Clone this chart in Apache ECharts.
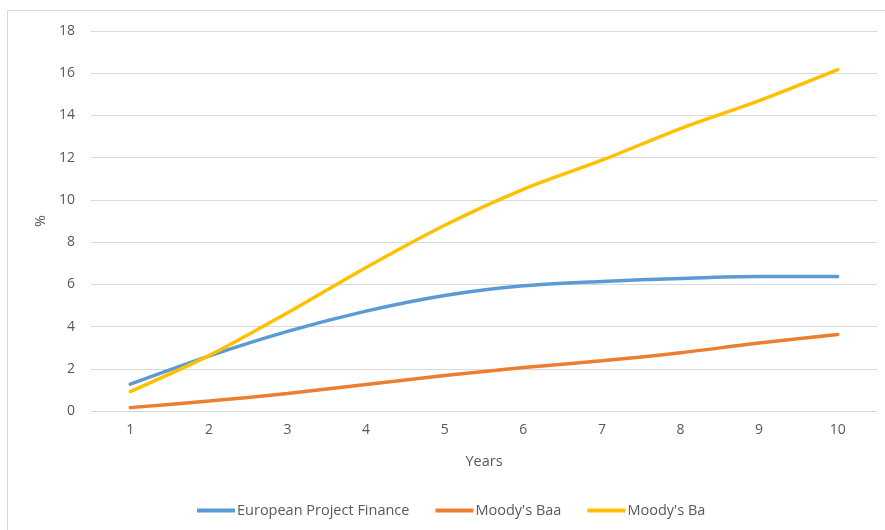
<!DOCTYPE html>
<html><head><meta charset="utf-8">
<script src="https://cdn.jsdelivr.net/npm/echarts@6/dist/echarts.min.js"></script>
<style>html,body{margin:0;padding:0;background:#fff}#c{width:885px;height:530px}
#frame{position:absolute;left:7px;top:10px;width:890px;height:530px;border:1px solid #d9d9d9;box-sizing:border-box;pointer-events:none}</style>
</head><body><div id="c"></div><div id="frame"></div>
<script>
const years = ['1','2','3','4','5','6','7','8','9','10'];
const europeanPF = [1.27, 2.6, 3.77, 4.73, 5.47, 5.93, 6.14, 6.28, 6.37, 6.37];
const moodysBaa = [0.16, 0.47, 0.83, 1.26, 1.68, 2.06, 2.38, 2.76, 3.22, 3.62];
const moodysBa = [0.92, 2.62, 4.65, 6.8, 8.8, 10.5, 11.88, 13.38, 14.7, 16.17];
const yTicks = {min: 0, max: 18, interval: 2};

const font = 'Open Sans';
const txt = '#595959';
const chart = echarts.init(document.getElementById('c'));
const icon = 'path://M0,0 L40,0 L40,4 L0,4 Z';
chart.setOption({
  animation: false,
  textStyle: {fontFamily: font},
  grid: {left: 91, right: 8, top: 31, bottom: 119, containLabel: false},
  legend: {
    bottom: 7, left: 192, itemWidth: 38, itemHeight: 4, itemGap: 26,
    textStyle: {color: txt, fontSize: 14.5, fontFamily: font, padding: [0,0,0,-3]},
    data: [
      {name: 'European Project Finance', icon: icon},
      {name: "Moody's Baa", icon: icon},
      {name: "Moody's Ba", icon: icon}
    ]
  },
  xAxis: {
    type: 'category', data: years, boundaryGap: true,
    name: 'Years', nameLocation: 'middle', nameGap: 43,
    nameTextStyle: {color: txt, fontSize: 14.5, fontFamily: font},
    axisLine: {show: true, lineStyle: {color: '#d9d9d9'}},
    axisTick: {show: false},
    axisLabel: {color: txt, fontSize: 14, margin: 12, fontFamily: font}
  },
  yAxis: {
    type: 'value', min: yTicks.min, max: yTicks.max, interval: yTicks.interval,
    name: '%', nameLocation: 'middle', nameGap: 42, nameRotate: 90,
    nameTextStyle: {color: txt, fontSize: 14.5, fontFamily: font},
    axisLine: {show: false}, axisTick: {show: false},
    axisLabel: {color: txt, fontSize: 14, margin: 16, fontFamily: font},
    splitLine: {lineStyle: {color: '#d9d9d9', width: 1}}
  },
  series: [
    {name: 'European Project Finance', type: 'line', data: europeanPF, smooth: 0.3, symbol: 'none',
     lineStyle: {width: 3.5, color: '#5b9bd5', cap: 'round'}, itemStyle: {color: '#5b9bd5'}},
    {name: "Moody's Baa", type: 'line', data: moodysBaa, smooth: 0.3, symbol: 'none',
     lineStyle: {width: 3.5, color: '#ed7d31', cap: 'round'}, itemStyle: {color: '#ed7d31'}},
    {name: "Moody's Ba", type: 'line', data: moodysBa, smooth: 0.3, symbol: 'none',
     lineStyle: {width: 3.5, color: '#ffc000', cap: 'round'}, itemStyle: {color: '#ffc000'}}
  ]
});
</script></body></html>
